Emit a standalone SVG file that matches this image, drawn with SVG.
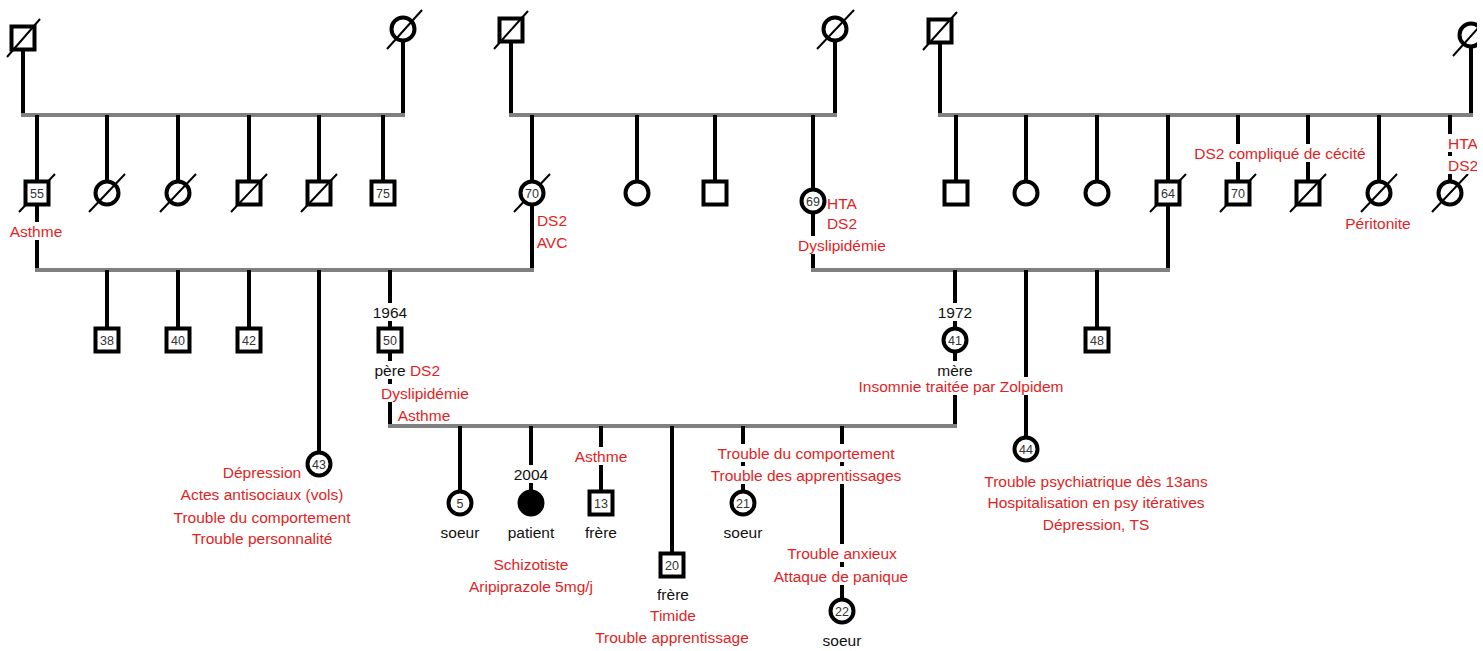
<svg xmlns="http://www.w3.org/2000/svg" width="1483" height="651" viewBox="0 0 1483 651">
<style>
.ln{stroke:#000;stroke-width:4;fill:none}
.gl{stroke:#808080;stroke-width:4;fill:none}
.nd{fill:#fff;stroke:#000;stroke-width:4}
.pt{fill:#000;stroke:#000;stroke-width:4}
.sl{stroke:#000;stroke-width:2}
.num{font-family:"Liberation Sans",Arial,sans-serif;font-size:12.5px;fill:#333;text-anchor:middle}
.t{font-family:"Liberation Sans",Arial,sans-serif;font-size:15.5px;text-anchor:middle}
.r{fill:#e31e24}
.k{fill:#111}
.bg{fill:#fff}
</style>
<defs>
<clipPath id="frame"><rect x="0" y="0" width="1477" height="651"/></clipPath>
</defs>
<rect x="0" y="0" width="1483" height="651" fill="#fff"/>
<g clip-path="url(#frame)">
<g id="connectors">
<path class="ln" d="M23 51V115M403 42V115M511 43V115M835 42V115M940 44V115M1471 48V115"/>
<path class="gl" d="M21 115H405M509 115H837M938 115H1473"/>
<path class="ln" d="M37 115V181M107 115V181M178 115V181M249 115V181M319 115V181M383 115V181M532 115V181M637 115V181M715 115V181M813 115V189M956 115V181M1026 115V181M1097 115V181M1168 115V181M1238 115V181M1308 115V181M1379 115V181M1450 115V181"/>
<path class="ln" d="M37 205V270M532 205V270M813 213V270M1168 205V270"/>
<path class="gl" d="M35 270H534M811 270H1170"/>
<path class="ln" d="M107 270V328M178 270V328M249 270V328M319 270V452M390 270V328M390 352V426M955 270V328M955 352V426M1026 270V437M1097 270V328"/>
<path class="gl" d="M388 426H957"/>
<path class="ln" d="M460 426V491M531 426V491M601 426V491M672 426V553M743 426V491M842 426V599"/>
</g>

<g id="g1-m1"><rect class="nd" x="11.5" y="26.5" width="23" height="23"/><line class="sl" x1="7" y1="57" x2="40" y2="19"/></g>
<g id="g1-f1"><circle class="nd" cx="403" cy="29" r="11.5"/><line class="sl" x1="387" y1="49" x2="422" y2="10"/></g>
<g id="g1-m2"><rect class="nd" x="499.5" y="18.5" width="23" height="23"/><line class="sl" x1="494" y1="49" x2="528" y2="11"/></g>
<g id="g1-f2"><circle class="nd" cx="835" cy="29" r="11.5"/><line class="sl" x1="817" y1="49" x2="854" y2="10"/></g>
<g id="g1-m3"><rect class="nd" x="928.5" y="19.5" width="23" height="23"/><line class="sl" x1="923" y1="50" x2="957" y2="12"/></g>
<g id="g1-f3"><circle class="nd" cx="1471" cy="35" r="11.5"/><line class="sl" x1="1453" y1="56" x2="1489" y2="16"/></g>

<g id="g2-a1"><line class="sl" x1="19" y1="212" x2="55" y2="174"/><rect class="nd" x="25.5" y="181.5" width="23" height="23"/><text class="num" x="37" y="197.5">55</text><rect class="bg" x="8" y="222" width="57" height="18"/><text class="t r" x="36" y="236.5">Asthme</text></g>
<g id="g2-a2"><circle class="nd" cx="107" cy="193" r="11.5"/><line class="sl" x1="89" y1="212" x2="125" y2="174"/></g>
<g id="g2-a3"><circle class="nd" cx="178" cy="193" r="11.5"/><line class="sl" x1="160" y1="212" x2="196" y2="174"/></g>
<g id="g2-a4"><rect class="nd" x="237.5" y="181.5" width="23" height="23"/><line class="sl" x1="231" y1="212" x2="267" y2="174"/></g>
<g id="g2-a5"><rect class="nd" x="307.5" y="181.5" width="23" height="23"/><line class="sl" x1="301" y1="212" x2="337" y2="174"/></g>
<g id="g2-a6"><rect class="nd" x="371.5" y="181.5" width="23" height="23"/><text class="num" x="383" y="197.5">75</text></g>

<g id="g2-b1"><line class="sl" x1="514" y1="212" x2="550" y2="174"/><circle class="nd" cx="532" cy="193" r="11.5"/><text class="num" x="532" y="197.5">70</text><text class="t r" x="552" y="225.5">DS2</text><text class="t r" x="552" y="247.5">AVC</text></g>
<g id="g2-b2"><circle class="nd" cx="637" cy="193" r="11.5"/></g>
<g id="g2-b3"><rect class="nd" x="703.5" y="181.5" width="23" height="23"/></g>
<g id="g2-b4"><circle class="nd" cx="813" cy="201" r="11.5"/><text class="num" x="813" y="205.5">69</text><text class="t r" x="842" y="208.5">HTA</text><text class="t r" x="842" y="228.5">DS2</text><rect class="bg" x="796" y="236" width="92" height="18"/><text class="t r" x="842" y="250.5">Dyslipidémie</text></g>

<g id="g2-c1"><rect class="nd" x="944.5" y="181.5" width="23" height="23"/></g>
<g id="g2-c2"><circle class="nd" cx="1026" cy="193" r="11.5"/></g>
<g id="g2-c3"><circle class="nd" cx="1097" cy="193" r="11.5"/></g>
<g id="g2-c4"><line class="sl" x1="1150" y1="212" x2="1186" y2="174"/><rect class="nd" x="1156.5" y="181.5" width="23" height="23"/><text class="num" x="1168" y="197.5">64</text></g>
<g id="g2-c5"><line class="sl" x1="1220" y1="212" x2="1256" y2="174"/><rect class="nd" x="1226.5" y="181.5" width="23" height="23"/><text class="num" x="1238" y="197.5">70</text><rect class="bg" x="1193" y="144" width="175" height="18"/><text class="t r" x="1280" y="158.5">DS2 compliqué de cécité</text></g>
<g id="g2-c6"><rect class="nd" x="1296.5" y="181.5" width="23" height="23"/><line class="sl" x1="1290" y1="212" x2="1326" y2="174"/></g>
<g id="g2-c7"><circle class="nd" cx="1379" cy="193" r="11.5"/><line class="sl" x1="1361" y1="212" x2="1397" y2="174"/><text class="t r" x="1378" y="228.5">Péritonite</text></g>
<g id="g2-c8"><circle class="nd" cx="1450" cy="193" r="11.5"/><line class="sl" x1="1432" y1="212" x2="1468" y2="174"/><rect class="bg" x="1446" y="134" width="37" height="18"/><text class="t r" x="1448" y="148.5" style="text-anchor:start">HTA</text><rect class="bg" x="1446" y="156" width="37" height="18"/><text class="t r" x="1448" y="170.5" style="text-anchor:start">DS2</text></g>

<g id="g3-38"><rect class="nd" x="95.5" y="328.5" width="23" height="23"/><text class="num" x="107" y="344.5">38</text></g>
<g id="g3-40"><rect class="nd" x="166.5" y="328.5" width="23" height="23"/><text class="num" x="178" y="344.5">40</text></g>
<g id="g3-42"><rect class="nd" x="237.5" y="328.5" width="23" height="23"/><text class="num" x="249" y="344.5">42</text></g>
<g id="g3-43"><circle class="nd" cx="319" cy="464" r="11.5"/><text class="num" x="319" y="468.5">43</text>
<text class="t r" x="262" y="477.5">Dépression</text><text class="t r" x="262" y="499.5">Actes antisociaux (vols)</text><text class="t r" x="262" y="522.5">Trouble du comportement</text><text class="t r" x="262" y="543.5">Trouble personnalité</text></g>
<g id="g3-pere"><rect class="bg" x="371" y="303" width="38" height="18"/><text class="t k" x="390" y="317.5">1964</text><rect class="nd" x="378.5" y="328.5" width="23" height="23"/><text class="num" x="390" y="344.5">50</text>
<rect class="bg" x="372" y="361" width="70" height="18"/><text class="t k" x="390" y="375.5">père</text><text class="t r" x="425" y="375.5">DS2</text><rect class="bg" x="379" y="384" width="92" height="18"/><text class="t r" x="425" y="398.5">Dyslipidémie</text><text class="t r" x="424" y="420.5">Asthme</text></g>
<g id="g3-mere"><rect class="bg" x="936" y="303" width="38" height="18"/><text class="t k" x="955" y="317.5">1972</text><circle class="nd" cx="955" cy="340" r="11.5"/><text class="num" x="955" y="344.5">41</text>
<rect class="bg" x="936" y="361" width="38" height="16"/><text class="t k" x="955" y="375.5">mère</text><rect class="bg" x="857" y="377" width="209" height="18"/><text class="t r" x="961" y="391.5">Insomnie traitée par Zolpidem</text></g>
<g id="g3-44"><circle class="nd" cx="1026" cy="449" r="11.5"/><text class="num" x="1026" y="453.5">44</text>
<text class="t r" x="1096" y="486.5">Trouble psychiatrique dès 13ans</text><text class="t r" x="1096" y="507.5">Hospitalisation en psy itératives</text><text class="t r" x="1096" y="529.5">Dépression, TS</text></g>
<g id="g3-48"><rect class="nd" x="1085.5" y="328.5" width="23" height="23"/><text class="num" x="1097" y="344.5">48</text></g>

<g id="g4-5"><circle class="nd" cx="460" cy="503" r="11.5"/><text class="num" x="460" y="507.5">5</text><text class="t k" x="460" y="537.5">soeur</text></g>
<g id="g4-patient"><rect class="bg" x="512" y="465" width="38" height="18"/><text class="t k" x="531" y="479.5">2004</text><circle class="pt" cx="531" cy="503" r="11.5"/><text class="t k" x="531" y="537.5">patient</text><text class="t r" x="531" y="570">Schizotiste</text><text class="t r" x="531" y="592">Aripiprazole 5mg/j</text></g>
<g id="g4-13"><rect class="bg" x="573" y="447" width="56" height="18"/><text class="t r" x="601" y="461.5">Asthme</text><rect class="nd" x="589.5" y="491.5" width="23" height="23"/><text class="num" x="601" y="507.5">13</text><text class="t k" x="601" y="537.5">frère</text></g>
<g id="g4-20"><rect class="nd" x="660.5" y="553.5" width="23" height="23"/><text class="num" x="672" y="569.5">20</text><text class="t k" x="673" y="599.5">frère</text><text class="t r" x="673" y="620.5">Timide</text><text class="t r" x="672" y="642.5">Trouble apprentissage</text></g>
<g id="g4-21"><rect class="bg" x="715" y="444" width="182" height="18"/><text class="t r" x="806" y="458.5">Trouble du comportement</text><rect class="bg" x="708" y="466" width="196" height="18"/><text class="t r" x="806" y="480.5">Trouble des apprentissages</text><circle class="nd" cx="743" cy="503" r="11.5"/><text class="num" x="743" y="507.5">21</text><text class="t k" x="743" y="537.5">soeur</text></g>
<g id="g4-22"><rect class="bg" x="785" y="544" width="114" height="18"/><text class="t r" x="842" y="558.5">Trouble anxieux</text><rect class="bg" x="772" y="567" width="138" height="18"/><text class="t r" x="841" y="581.5">Attaque de panique</text><circle class="nd" cx="842" cy="611" r="11.5"/><text class="num" x="842" y="615.5">22</text><text class="t k" x="842" y="645.5">soeur</text></g>
</g>
</svg>
